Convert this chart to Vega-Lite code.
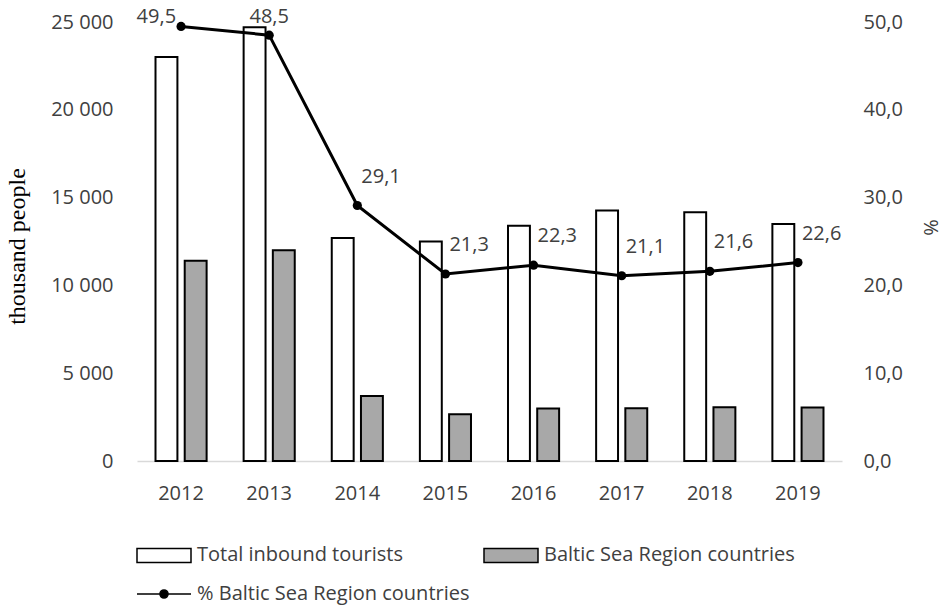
{
  "$schema": "https://vega.github.io/schema/vega-lite/v6.json",
  "width": 705,
  "height": 439,
  "autosize": {"type": "none"},
  "padding": {"left": 137, "top": 22, "right": 102, "bottom": 149},
  "background": "white",
  "config": {
    "font": "Open Sans",
    "view": {"stroke": null},
    "locale": {"number": {"decimal": ",", "thousands": " ", "grouping": [3], "currency": ["", ""]}},
    "axis": {"grid": false, "ticks": false, "labelFont": "Open Sans", "labelFontSize": 20, "labelColor": "#404040", "titleFontWeight": "normal", "titleColor": "#000000"}
  },
  "data": {
    "values": [
      {"year": "2012", "series": "Total inbound tourists", "value": 23000},
      {"year": "2013", "series": "Total inbound tourists", "value": 24700},
      {"year": "2014", "series": "Total inbound tourists", "value": 12700},
      {"year": "2015", "series": "Total inbound tourists", "value": 12500},
      {"year": "2016", "series": "Total inbound tourists", "value": 13400},
      {"year": "2017", "series": "Total inbound tourists", "value": 14270},
      {"year": "2018", "series": "Total inbound tourists", "value": 14160},
      {"year": "2019", "series": "Total inbound tourists", "value": 13500},
      {"year": "2012", "series": "Baltic Sea Region countries", "value": 11400},
      {"year": "2013", "series": "Baltic Sea Region countries", "value": 12000},
      {"year": "2014", "series": "Baltic Sea Region countries", "value": 3700},
      {"year": "2015", "series": "Baltic Sea Region countries", "value": 2660},
      {"year": "2016", "series": "Baltic Sea Region countries", "value": 2990},
      {"year": "2017", "series": "Baltic Sea Region countries", "value": 3010},
      {"year": "2018", "series": "Baltic Sea Region countries", "value": 3060},
      {"year": "2019", "series": "Baltic Sea Region countries", "value": 3050},
      {"year": "2012", "series": "% Baltic Sea Region countries", "value": 49.5},
      {"year": "2013", "series": "% Baltic Sea Region countries", "value": 48.5},
      {"year": "2014", "series": "% Baltic Sea Region countries", "value": 29.1},
      {"year": "2015", "series": "% Baltic Sea Region countries", "value": 21.3},
      {"year": "2016", "series": "% Baltic Sea Region countries", "value": 22.3},
      {"year": "2017", "series": "% Baltic Sea Region countries", "value": 21.1},
      {"year": "2018", "series": "% Baltic Sea Region countries", "value": 21.6},
      {"year": "2019", "series": "% Baltic Sea Region countries", "value": 22.6}
    ]
  },
  "encoding": {
    "x": {
      "field": "year",
      "type": "ordinal",
      "scale": {"paddingInner": 0.42, "paddingOuter": 0.21},
      "axis": {"title": null, "labelAngle": 0, "labelPadding": 22, "domainColor": "#d9d9d9", "domainWidth": 1.5}
    }
  },
  "layer": [
    {
      "transform": [{"filter": "datum.series !== '% Baltic Sea Region countries'"}],
      "mark": {"type": "bar", "stroke": "black", "strokeWidth": 2, "opacity": 1},
      "encoding": {
        "xOffset": {"field": "series", "sort": ["Total inbound tourists", "Baltic Sea Region countries"], "scale": {"paddingInner": 0.25, "paddingOuter": 0}},
        "y": {
          "field": "value",
          "type": "quantitative",
          "scale": {"domain": [0, 25000], "nice": false},
          "axis": {
            "orient": "left",
            "values": [0, 5000, 10000, 15000, 20000, 25000],
            "format": ",.0f",
            "domain": false,
            "labelPadding": 24,
            "title": "thousand people",
            "titleFont": "Liberation Serif",
            "titleFontSize": 24,
            "titleX": -120,
            "titleY": 224,
            "titleAngle": -90,
            "titleAlign": "center",
            "titleBaseline": "middle"
          }
        },
        "color": {
          "field": "series",
          "type": "nominal",
          "scale": {
            "domain": ["Total inbound tourists", "Baltic Sea Region countries", "% Baltic Sea Region countries"],
            "range": ["#ffffff", "#a8a8a8", "#000000"]
          },
          "legend": {
            "title": null,
            "orient": "none",
            "direction": "horizontal",
            "legendX": -1,
            "legendY": 505,
            "columns": 2,
            "columnPadding": 11,
            "rowPadding": -5,
            "padding": 0,
            "symbolSize": 2916,
            "symbolType": {"expr": "datum.value === '% Baltic Sea Region countries' ? 'M-1,0H-0.15M0.15,0H1M-0.15,0A0.15,0.15,0,1,0,0.15,0A0.15,0.15,0,1,0,-0.15,0' : 'M-1,-0.26H1V0.26H-1Z'"},
            "labelFont": "Open Sans",
            "labelFontSize": 20,
            "labelColor": "#404040",
            "labelOffset": 5,
            "labelLimit": 500,
            "encode": {
              "symbols": {
                "fill": {"value": {"expr": "datum.value === 'Total inbound tourists' ? '#ffffff' : datum.value === 'Baltic Sea Region countries' ? '#a8a8a8' : '#000000'"}},
                "stroke": {"value": "#000000"},
                "strokeWidth": {"value": {"expr": "datum.value === '% Baltic Sea Region countries' ? 3 : 2"}},
                "opacity": {"value": 1},
                "fillOpacity": {"value": 1},
                "strokeOpacity": {"value": 1}
              }
            }
          }
        }
      }
    },
    {
      "transform": [{"filter": "datum.series === '% Baltic Sea Region countries'"}],
      "encoding": {
        "y": {
          "field": "value",
          "type": "quantitative",
          "scale": {"domain": [0, 50], "nice": false},
          "axis": {
            "orient": "right",
            "values": [0, 10, 20, 30, 40, 50],
            "format": ".1f",
            "domain": false,
            "labelPadding": 21,
            "title": "%",
            "titleFont": "Open Sans",
            "titleFontSize": 20,
            "titleColor": "#404040",
            "titleX": 87,
            "titleY": 205,
            "titleAngle": 90,
            "titleAlign": "center",
            "titleBaseline": "middle"
          }
        }
      },
      "layer": [
        {
          "mark": {"type": "line", "strokeWidth": 3, "color": "#000000", "point": {"filled": true, "size": 85, "color": "#000000"}}
        },
        {
          "transform": [{"filter": "datum.year === '2012'"}],
          "mark": {"type": "text", "align": "right", "baseline": "middle", "dx": -5, "dy": -9, "fontSize": 20, "font": "Open Sans", "color": "#404040"},
          "encoding": {"text": {"field": "value", "type": "quantitative", "format": ".1f"}}
        },
        {
          "transform": [{"filter": "datum.year === '2013'"}],
          "mark": {"type": "text", "align": "center", "baseline": "middle", "dy": -18, "fontSize": 20, "font": "Open Sans", "color": "#404040"},
          "encoding": {"text": {"field": "value", "type": "quantitative", "format": ".1f"}}
        },
        {
          "transform": [{"filter": "datum.year !== '2012' && datum.year !== '2013'"}],
          "mark": {"type": "text", "align": "left", "baseline": "middle", "dx": 4, "dy": -29, "fontSize": 20, "font": "Open Sans", "color": "#404040"},
          "encoding": {"text": {"field": "value", "type": "quantitative", "format": ".1f"}}
        }
      ]
    }
  ],
  "resolve": {"scale": {"y": "independent"}}
}
